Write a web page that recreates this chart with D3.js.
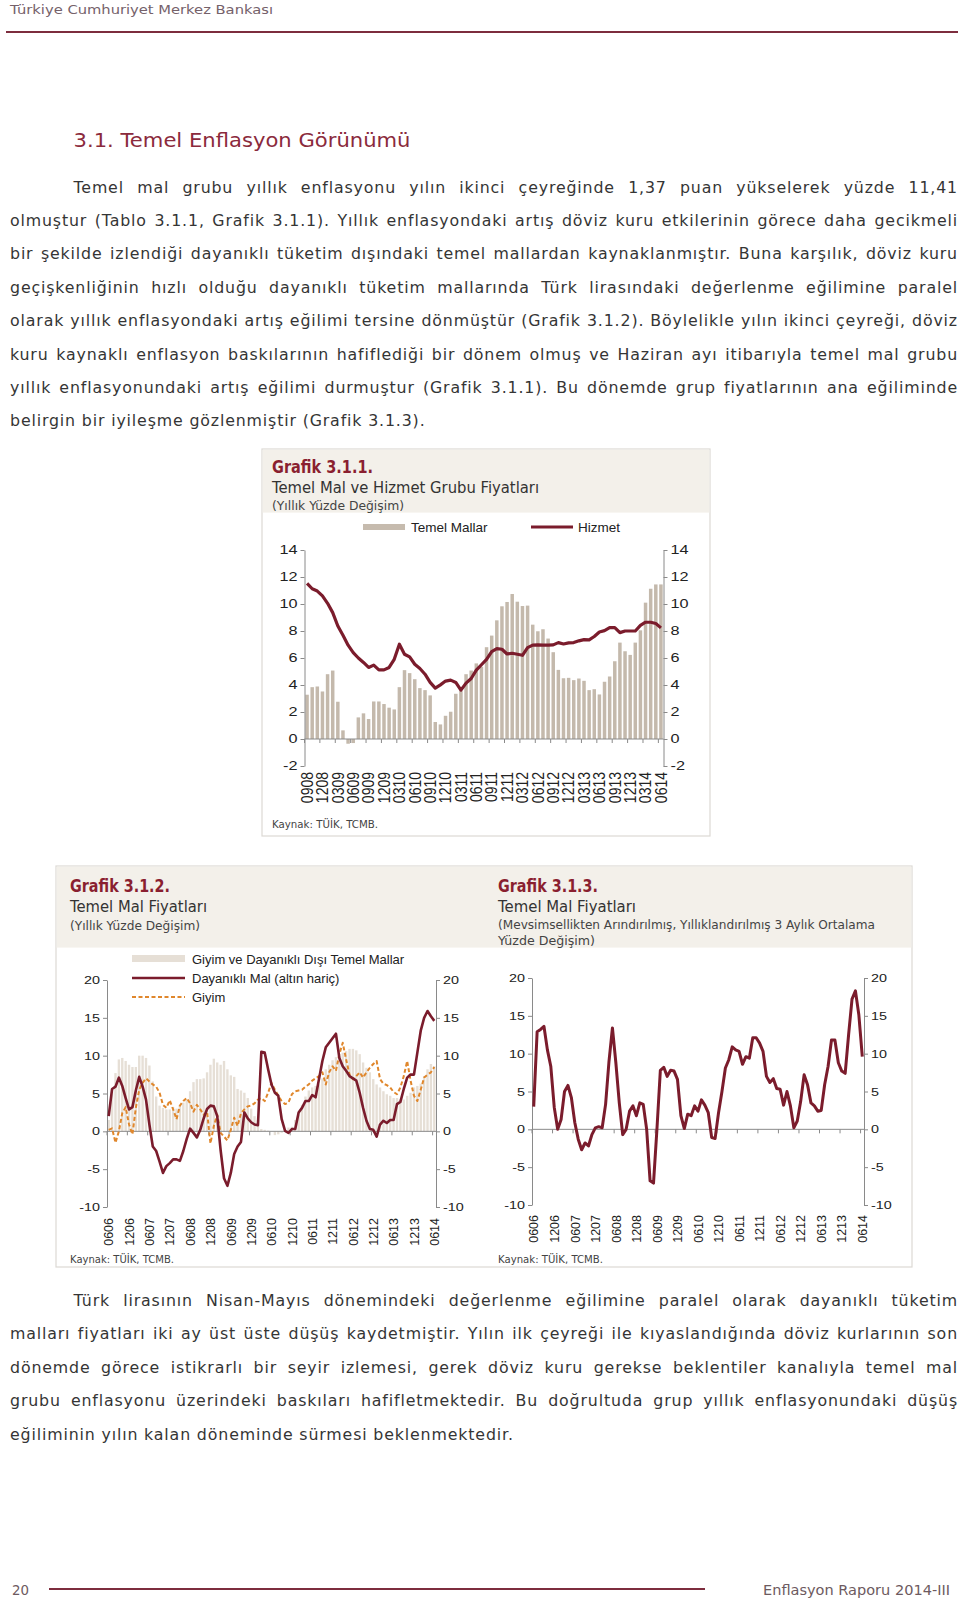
<!DOCTYPE html>
<html><head><meta charset="utf-8">
<script src="https://cdnjs.cloudflare.com/ajax/libs/d3/7.8.5/d3.min.js"></script>
<style>body{margin:0;background:#fff}svg{display:block}</style>
</head><body>
<svg id="page" width="960" height="1602"></svg>
<script>
// ---------------- DATA ----------------
// Grafik 3.1.1 : monthly, Sep 2008 .. Jun 2014 (70 months)
const months1 = d3.timeMonth.range(new Date(2008, 8, 1), new Date(2014, 6, 1));
const tickLabels1 = ["0908","1208","0309","0609","0909","1209","0310","0610","0910","1210","0311","0611",
  "0911","1211","0312","0612","0912","1212","0313","0613","0913","1213","0314","0614"];
const temelMallar = [3.28,3.84,3.89,3.52,4.8,5.07,2.76,0.64,-0.35,-0.3,
  1.6,1.9,1.48,2.78,2.78,2.59,2.32,2.19,3.84,5.1,
  4.88,4.43,3.77,3.62,3.23,1.26,1.08,1.72,2.02,3.35,
  3.57,4.8,5.07,5.6,5.35,6.8,7.66,8.79,9.83,10.15,
  10.74,10.17,9.85,9.88,8.47,7.98,8.13,7.44,6.43,5.12,
  4.5,4.53,4.36,4.48,4.31,3.62,3.69,3.3,4.24,4.63,
  5.76,7.14,6.5,6.23,7.14,8.05,10.1,11.13,11.45,11.45];
const hizmet = [11.53,11.13,10.96,10.6,10.05,9.36,8.37,7.68,6.95,6.4,
  6.0,5.67,5.3,5.47,5.12,5.12,5.3,5.9,7.02,6.28,
  6.08,5.54,5.22,4.8,4.19,3.77,4.01,4.29,4.36,4.19,
  3.62,4.14,4.48,5.1,5.5,5.9,6.48,6.7,6.65,6.3,
  6.35,6.28,6.2,6.77,6.95,6.97,6.95,6.95,6.97,7.14,
  7.04,7.12,7.14,7.27,7.36,7.34,7.59,7.93,8.03,8.25,
  8.25,7.88,8.0,8.0,8.0,8.42,8.65,8.65,8.55,8.23];
const yTicks1 = [-2,0,2,4,6,8,10,12,14];

// Grafik 3.1.2 / 3.1.3 : monthly, Jun 2006 .. Jun 2014 (97 months)
const months2 = d3.timeMonth.range(new Date(2006, 5, 1), new Date(2014, 6, 1));
const tickLabels2 = ["0606","1206","0607","1207","0608","1208","0609","1209","0610","1210","0611","1211",
  "0612","1212","0613","1213","0614"];
const giyimDisi = [1.5,5.5,7.7,9.5,9.7,9.3,8.8,8.5,8.5,10.0,
  10.0,9.7,8.7,6.6,4.6,3.4,3.1,2.9,2.9,3.2,
  3.0,3.5,3.8,4.2,5.3,6.5,6.9,6.9,7.0,7.8,
  8.8,9.6,9.1,8.8,9.3,8.2,7.4,7.2,5.6,5.4,
  5.1,4.4,3.0,2.0,1.5,0.3,0.2,0.1,0.0,-0.5,
  -0.4,-0.2,0.2,0.5,0.6,1.5,2.2,3.5,4.6,5.4,
  5.8,6.0,6.2,7.0,8.2,8.8,9.4,9.8,10.0,10.4,
  10.6,10.9,10.9,10.7,10.2,9.1,8.4,7.8,6.9,6.2,
  5.8,5.3,4.9,4.7,4.4,4.4,4.2,4.2,4.7,5.1,
  5.8,6.0,6.3,7.3,8.2,8.9,8.6];
const dayanikli = [2.0,5.6,5.9,7.1,6.0,4.4,2.9,3.2,5.4,7.2,
  5.9,4.2,0.9,-2.0,-2.6,-4.0,-5.5,-4.6,-4.2,-3.7,
  -3.7,-3.9,-2.6,-1.0,0.35,-0.2,-0.8,0.2,1.7,2.95,
  3.4,3.3,2.0,-2.5,-6.2,-7.2,-5.5,-3.0,-2.0,-1.4,
  2.5,1.7,1.2,0.9,0.8,10.5,10.4,8.2,6.2,5.1,
  4.7,1.6,0.05,-0.2,0.3,0.3,2.5,3.1,4.0,4.0,
  4.8,4.5,6.9,9.3,11.1,11.7,12.3,12.9,9.7,8.6,
  8.0,7.3,7.0,6.7,5.1,3.1,1.4,0.3,0.2,-0.7,
  0.9,1.4,1.1,1.5,1.5,3.6,3.9,5.6,7.1,7.5,
  7.5,10.4,13.3,15.0,15.9,15.2,14.6];
const giyim = [0.2,0.4,-1.5,0.0,2.4,3.2,0.9,-0.4,3.1,5.5,
  6.4,7.0,6.6,6.2,5.9,5.1,3.5,3.1,4.1,2.9,
  1.6,3.4,4.0,4.4,3.7,2.6,3.5,2.9,2.2,2.6,
  -1.6,0.7,2.2,-0.2,-0.7,-1.2,0.2,1.8,0.7,2.4,
  2.9,3.3,3.4,3.7,4.2,4.4,4.0,5.1,6.4,5.5,
  4.7,4.0,3.6,3.8,4.9,5.3,5.4,5.5,5.9,6.2,
  6.7,7.0,7.3,7.8,6.2,7.8,8.6,8.0,10.2,11.7,
  9.5,7.5,6.9,7.3,7.8,7.1,7.8,8.4,8.9,9.3,
  6.9,6.3,6.1,5.8,5.2,4.9,5.8,7.3,9.3,6.7,
  4.7,4.0,5.5,7.1,7.5,7.8,8.5];
const temelMalSA = [3.0,12.9,13.2,13.6,10.5,8.3,2.9,0.0,1.3,5.0,
  5.8,4.2,0.9,-1.3,-2.7,-1.8,-2.2,-0.7,0.2,0.35,
  0.2,3.3,9.0,13.4,8.8,3.5,-0.7,0.0,2.4,3.1,
  1.8,3.5,3.3,0.0,-6.8,-7.1,0.0,7.8,8.2,7.0,
  7.8,7.7,6.6,1.8,0.1,2.0,1.8,3.1,2.4,3.9,
  3.2,2.2,-1.1,-1.2,2.2,5.0,8.1,9.2,10.9,10.5,
  10.3,8.6,9.6,9.4,12.1,12.1,11.4,10.3,7.0,6.2,
  6.7,5.4,5.3,3.2,5.0,3.1,0.2,1.1,3.7,7.2,
  5.9,3.5,3.1,2.4,2.5,5.9,8.3,11.8,11.8,8.8,
  7.7,7.4,12.5,17.2,18.3,15.1,9.6];
const yTicks2 = [-10,-5,0,5,10,15,20];

// ---------------- STYLE ----------------
const GOTHIC = "'DejaVu Sans', 'Noto Sans', sans-serif";
const ARIAL = "'Liberation Sans', Arial, sans-serif";
const MAROON = "#7b1c2c";
const TITLE = "#8a1f30";
const TEXT = "#353535";

const svg = d3.select("#page");

function txt(x, y, s, o) {
  const t = svg.append("text").attr("x", x).attr("y", y).text(s)
    .style("font-family", o.font || GOTHIC).style("font-size", o.size + "px")
    .style("fill", o.color || TEXT).style("font-weight", o.weight || "normal");
  if (o.anchor) t.attr("text-anchor", o.anchor);
  if (o.ls) t.style("letter-spacing", o.ls + "px");
  if (o.len) t.attr("textLength", o.len).attr("lengthAdjust", "spacingAndGlyphs");
  return t;
}

// ---------------- PAGE HEADER / FOOTER ----------------
txt(10, 14, "Türkiye Cumhuriyet Merkez Bankası", {size: 13, color: "#75616a", len: 263});
svg.append("line").attr("x1", 6).attr("x2", 958).attr("y1", 32).attr("y2", 32)
  .attr("stroke", "#7d2d3e").attr("stroke-width", 2.2);

txt(73.5, 147, "3.1. Temel Enflasyon Görünümü", {size: 20, color: "#8b2a3c", len: 337});

function paragraph(lines, y0, lh) {
  lines.forEach((ln, i) => {
    const x0 = i === 0 ? 73.5 : 10;
    const t = txt(x0, y0 + i * lh, ln, {size: 15.8, color: TEXT, ls: 0.85});
    if (i < lines.length - 1) {
      const w = t.node().getComputedTextLength();
      const n = (ln.match(/ /g) || []).length;
      t.style("word-spacing", ((958 - x0 - w) / n) + "px");
    }
  });
}

paragraph([
  "Temel mal grubu yıllık enflasyonu yılın ikinci çeyreğinde 1,37 puan yükselerek yüzde 11,41",
  "olmuştur (Tablo 3.1.1, Grafik 3.1.1). Yıllık enflasyondaki artış döviz kuru etkilerinin görece daha gecikmeli",
  "bir şekilde izlendiği dayanıklı tüketim dışındaki temel mallardan kaynaklanmıştır. Buna karşılık, döviz kuru",
  "geçişkenliğinin hızlı olduğu dayanıklı tüketim mallarında Türk lirasındaki değerlenme eğilimine paralel",
  "olarak yıllık enflasyondaki artış eğilimi tersine dönmüştür (Grafik 3.1.2). Böylelikle yılın ikinci çeyreği, döviz",
  "kuru kaynaklı enflasyon baskılarının hafiflediği bir dönem olmuş ve Haziran ayı itibarıyla temel mal grubu",
  "yıllık enflasyonundaki artış eğilimi durmuştur (Grafik 3.1.1). Bu dönemde grup fiyatlarının ana eğiliminde",
  "belirgin bir iyileşme gözlenmiştir (Grafik 3.1.3)."
], 192.5, 33.4);

paragraph([
  "Türk lirasının Nisan-Mayıs dönemindeki değerlenme eğilimine paralel olarak dayanıklı tüketim",
  "malları fiyatları iki ay üst üste düşüş kaydetmiştir. Yılın ilk çeyreği ile kıyaslandığında döviz kurlarının son",
  "dönemde görece istikrarlı bir seyir izlemesi, gerek döviz kuru gerekse beklentiler kanalıyla temel mal",
  "grubu enflasyonu üzerindeki baskıları hafifletmektedir. Bu doğrultuda grup yıllık enflasyonundaki düşüş",
  "eğiliminin yılın kalan döneminde sürmesi beklenmektedir."
], 1305.5, 33.5);

txt(12, 1595, "20", {size: 14, color: "#6d5a60", len: 17});
svg.append("line").attr("x1", 49).attr("x2", 705).attr("y1", 1589).attr("y2", 1589)
  .attr("stroke", "#7d2d3e").attr("stroke-width", 2);
txt(763, 1595, "Enflasyon Raporu  2014-III", {size: 14, color: "#6d5a60", len: 187});

// ---------------- BOXES ----------------
function box(x, y, w, h, hh) {
  svg.append("rect").attr("x", x).attr("y", y).attr("width", w).attr("height", h)
    .attr("fill", "#fff").attr("stroke", "#dcd9d4").attr("stroke-width", 1.2);
  svg.append("rect").attr("x", x + 0.6).attr("y", y + 0.6).attr("width", w - 1.2).attr("height", hh)
    .attr("fill", "#f3f0ea");
}
box(262, 449, 448, 387, 63);
box(56, 866, 856, 401, 81);

// ---------------- CHART HELPER ----------------
function chart(o) {
  const g = svg.append("g");
  const n = o.n;
  const x = d3.scaleBand().domain(d3.range(n)).range(o.xr).paddingInner(o.pad).paddingOuter(o.pad / 2);
  const y = d3.scaleLinear().domain(o.yd).range(o.yr);
  const step = x.step();
  const cx = i => x(i) + x.bandwidth() / 2;

  if (o.bars) {
    g.append("g").selectAll("rect").data(o.bars).join("rect")
      .attr("x", (d, i) => x(i)).attr("width", x.bandwidth())
      .attr("y", d => y(Math.max(0, d))).attr("height", d => Math.abs(y(d) - y(0)))
      .attr("fill", o.barColor);
  }
  const axCol = "#8a8a8a";
  const left = g.append("g").attr("transform", `translate(${o.xr[0]},0)`)
    .call(d3.axisLeft(y).tickValues(o.yTicks).tickSize(4).tickSizeOuter(0).tickFormat(""));
  const right = g.append("g").attr("transform", `translate(${o.xr[1]},0)`)
    .call(d3.axisRight(y).tickValues(o.yTicks).tickSize(4).tickSizeOuter(0).tickFormat(""));
  [left, right].forEach(a => { a.selectAll("path,line").attr("stroke", axCol); });
  g.append("line").attr("x1", o.xr[0]).attr("x2", o.xr[1]).attr("y1", y(0)).attr("y2", y(0))
    .attr("stroke", axCol).attr("stroke-width", 1);
  const tickIdx = d3.range(0, n + 1, o.every);
  g.append("g").selectAll("line").data(tickIdx).join("line")
    .attr("x1", i => o.xr[0] + i * step).attr("x2", i => o.xr[0] + i * step)
    .attr("y1", y(0)).attr("y2", y(0) + 4).attr("stroke", axCol);

  o.yTicks.forEach(v => {
    g.append("text").attr("transform", `translate(${o.xr[0] - 7},${y(v)}) scale(${o.ySx},1)`)
      .attr("text-anchor", "end").attr("dy", "0.35em").text(v)
      .style("font-family", ARIAL).style("font-size", o.yFont + "px").style("fill", "#222");
    g.append("text").attr("transform", `translate(${o.xr[1] + 7},${y(v)}) scale(${o.ySx},1)`)
      .attr("text-anchor", "start").attr("dy", "0.35em").text(v)
      .style("font-family", ARIAL).style("font-size", o.yFont + "px").style("fill", "#222");
  });
  g.append("g").selectAll("text").data(o.tickLabels).join("text")
    .attr("transform", (d, k) => `translate(${cx(k * o.every)},${o.labelTop}) scale(${o.xSx},1) rotate(-90)`)
    .attr("text-anchor", "end").attr("dy", "0.36em").text(d => d)
    .style("font-family", ARIAL).style("font-size", o.xFont + "px").style("fill", "#222");

  (o.lines || []).forEach(l => {
    g.append("path").datum(l.data)
      .attr("d", d3.line().x((d, i) => cx(i)).y(d => y(d)))
      .attr("fill", "none").attr("stroke", l.color).attr("stroke-width", l.width)
      .attr("stroke-dasharray", l.dash || null).attr("stroke-linejoin", "round");
  });
  return {x, y};
}

// ---------------- GRAFIK 3.1.1 ----------------
txt(272, 473, "Grafik 3.1.1.", {size: 18, color: TITLE, weight: "bold", len: 101});
txt(272, 493, "Temel Mal ve Hizmet Grubu Fiyatları", {size: 15, color: "#333", len: 267});
txt(272, 510, "(Yıllık Yüzde Değişim)", {size: 13, color: "#444", len: 132});

svg.append("rect").attr("x", 363).attr("y", 524).attr("width", 42).attr("height", 6).attr("fill", "#c6bbae");
txt(411, 532, "Temel Mallar", {size: 13.5, font: ARIAL, color: "#222"});
svg.append("line").attr("x1", 531).attr("x2", 573).attr("y1", 527).attr("y2", 527)
  .attr("stroke", MAROON).attr("stroke-width", 3);
txt(578, 532, "Hizmet", {size: 13.5, font: ARIAL, color: "#222"});

chart({
  n: months1.length, xr: [304.5, 663.5], pad: 0.32, yd: [-2, 14], yr: [766, 550],
  bars: temelMallar, barColor: "#c4b9ac", yTicks: yTicks1, every: 3, tickLabels: tickLabels1,
  labelTop: 772, xFont: 14, xSx: 1.15, yFont: 12.5, ySx: 1.3,
  lines: [{data: hizmet, color: MAROON, width: 3.2}]
});
txt(272, 828, "Kaynak: TÜİK, TCMB.", {size: 11, color: "#444", len: 106});

// ---------------- GRAFIK 3.1.2 ----------------
txt(70, 892, "Grafik 3.1.2.", {size: 18, color: TITLE, weight: "bold", len: 100});
txt(70, 912, "Temel Mal Fiyatları", {size: 15, color: "#333", len: 137});
txt(70, 930, "(Yıllık Yüzde Değişim)", {size: 13, color: "#444", len: 130});

svg.append("rect").attr("x", 132).attr("y", 955).attr("width", 53).attr("height", 7).attr("fill", "#e6dfd6");
txt(192, 964, "Giyim ve Dayanıklı Dışı Temel Mallar", {size: 13, font: ARIAL, color: "#222"});
svg.append("line").attr("x1", 132).attr("x2", 185).attr("y1", 978).attr("y2", 978)
  .attr("stroke", MAROON).attr("stroke-width", 2.5);
txt(192, 983, "Dayanıklı Mal (altın hariç)", {size: 13, font: ARIAL, color: "#222"});
svg.append("line").attr("x1", 132).attr("x2", 185).attr("y1", 997).attr("y2", 997)
  .attr("stroke", "#e0872c").attr("stroke-width", 2).attr("stroke-dasharray", "4,2.5");
txt(192, 1002, "Giyim", {size: 13, font: ARIAL, color: "#222"});

chart({
  n: months2.length, xr: [107, 436], pad: 0.3, yd: [-10, 20], yr: [1207, 980],
  bars: giyimDisi, barColor: "#e6dfd6", yTicks: yTicks2, every: 6, tickLabels: tickLabels2,
  labelTop: 1218, xFont: 12.5, xSx: 1.05, yFont: 11.5, ySx: 1.25,
  lines: [
    {data: giyim, color: "#e0872c", width: 2, dash: "4,2.5"},
    {data: dayanikli, color: MAROON, width: 2.6}
  ]
});
txt(70, 1263, "Kaynak: TÜİK, TCMB.", {size: 11, color: "#444", len: 104});

// ---------------- GRAFIK 3.1.3 ----------------
txt(498, 892, "Grafik 3.1.3.", {size: 18, color: TITLE, weight: "bold", len: 100});
txt(498, 912, "Temel Mal Fiyatları", {size: 15, color: "#333", len: 138});
txt(498, 929, "(Mevsimsellikten Arındırılmış, Yıllıklandırılmış 3 Aylık Ortalama", {size: 13, color: "#444", len: 377});
txt(498, 945, "Yüzde Değişim)", {size: 13, color: "#444", len: 97});

chart({
  n: months2.length, xr: [532, 864], pad: 0.3, yd: [-10, 20], yr: [1205, 978],
  bars: null, yTicks: yTicks2, every: 6, tickLabels: tickLabels2,
  labelTop: 1215, xFont: 12.5, xSx: 1.05, yFont: 11.5, ySx: 1.25,
  lines: [{data: temelMalSA, color: MAROON, width: 3}]
});
txt(498, 1263, "Kaynak: TÜİK, TCMB.", {size: 11, color: "#444", len: 105});
</script>
</body></html>
